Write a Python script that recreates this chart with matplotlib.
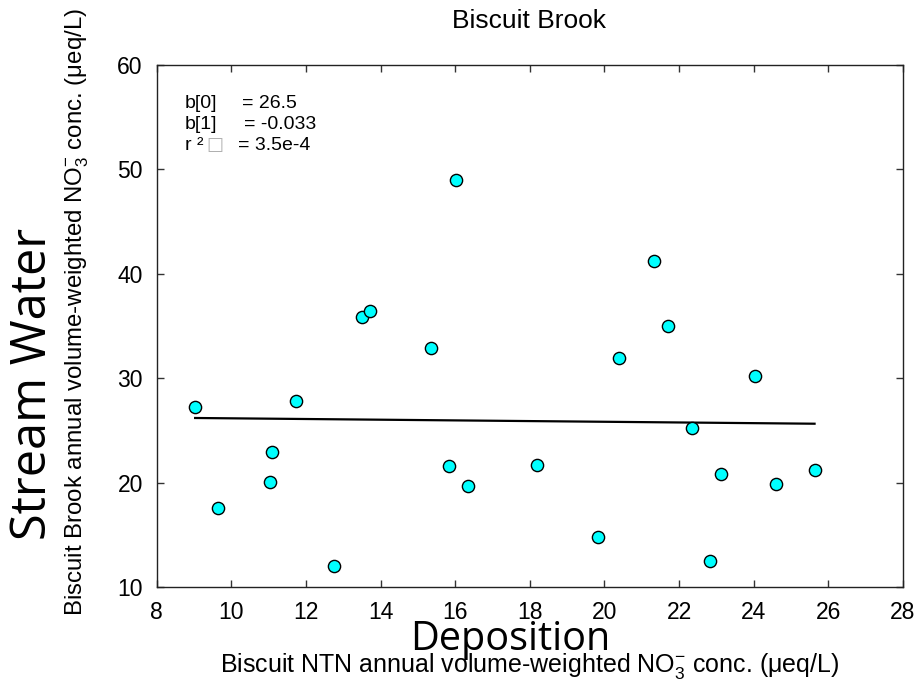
import matplotlib
matplotlib.use("Agg")
import matplotlib.pyplot as plt
import numpy as np

# ---- data ----
deposition = [9.03, 9.63, 11.04, 11.08, 11.73, 12.76, 13.49, 13.71, 15.35,
              15.83, 16.01, 16.33, 18.20, 19.83, 20.39, 21.33, 21.70, 22.35,
              22.84, 23.12, 24.03, 24.60, 25.63]
stream = [27.3, 17.6, 20.1, 22.9, 27.8, 12.0, 35.9, 36.4, 32.9,
          21.6, 49.0, 19.7, 21.7, 14.8, 31.9, 41.2, 35.0, 25.2,
          12.5, 20.8, 30.2, 19.9, 21.2]
b0 = 26.5
b1 = -0.033
r2_text = "3.5e-4"
x_ticks = [8, 10, 12, 14, 16, 18, 20, 22, 24, 26, 28]
y_ticks = [10, 20, 30, 40, 50, 60]

plt.rcParams['font.family'] = ['Liberation Sans', 'DejaVu Sans']
plt.rcParams['mathtext.fontset'] = 'custom'
plt.rcParams['mathtext.rm'] = 'Liberation Sans'
plt.rcParams['mathtext.it'] = 'Liberation Sans'

W, H = 920, 680
fig = plt.figure(figsize=(W / 100, H / 100), dpi=100)
ax = fig.add_axes([156.7 / W, 1 - 587.3 / H, (903 - 156.7) / W, (587.3 - 64.8) / H])

ax.plot(deposition, stream, linestyle='none', marker='o', markersize=8.8,
        markerfacecolor='#00FFFF', markeredgecolor='black', markeredgewidth=1.0, zorder=3)

xl = np.array([min(deposition), max(deposition)])
ax.plot(xl, b0 + b1 * xl, color='black', linewidth=1.6, zorder=2)

ax.set_xlim(8, 28)
ax.set_ylim(10, 60)
ax.set_xticks(x_ticks)
ax.set_yticks(y_ticks)
ax.tick_params(direction='in', length=5, width=1.0, color='#333333',
               top=True, right=True, labelsize=16.5, pad=10)
for s in ax.spines.values():
    s.set_linewidth(1.0)
    s.set_color('#222222')

fig.text(529.5 / W, 1 - 28 / H, "Biscuit Brook", ha='center', va='baseline', fontsize=19)

# annotation
fs = 14
fig.text(185 / W, 1 - 108 / H, "b[0]", fontsize=fs, va='baseline')
fig.text(242 / W, 1 - 108 / H, "= 26.5", fontsize=fs, va='baseline')
fig.text(185 / W, 1 - 129 / H, "b[1]", fontsize=fs, va='baseline')
fig.text(244 / W, 1 - 129 / H, "= -0.033", fontsize=fs, va='baseline')
fig.text(185 / W, 1 - 150 / H, "r \u00b2", fontsize=fs, va='baseline')
fig.text(206 / W, 1 - 150 / H, "\u25a1", fontsize=fs - 1, va='baseline', color='#b0b0b0',
         family=['DejaVu Sans'])
fig.text(238 / W, 1 - 150 / H, "= " + r2_text, fontsize=fs, va='baseline')

# axis labels
fig.text(529.5 / W, 1 - 671.7 / H,
         r"Biscuit NTN annual volume-weighted NO$_3^{\mathrm{-}}$ conc. ($\mu$eq/L)",
         ha='center', va='baseline', fontsize=18)
fig.text(83 / W, 1 - 312 / H,
         r"Biscuit Brook annual volume-weighted NO$_3^{\mathrm{-}}$ conc. ($\mu$eq/L)",
         ha='center', va='baseline', rotation=90, rotation_mode='anchor', fontsize=17.3)

fig.text(510 / W, 1 - 650 / H, "Deposition", ha='center', va='baseline',
         fontsize=28.5, family=['Open Sans', 'DejaVu Sans'])
fig.text(46 / W, 1 - 384 / H, "Stream Water", ha='center', va='baseline',
         rotation=90, rotation_mode='anchor', fontsize=35, family=['Open Sans', 'DejaVu Sans'])

fig.savefig("out.png", dpi=100)
